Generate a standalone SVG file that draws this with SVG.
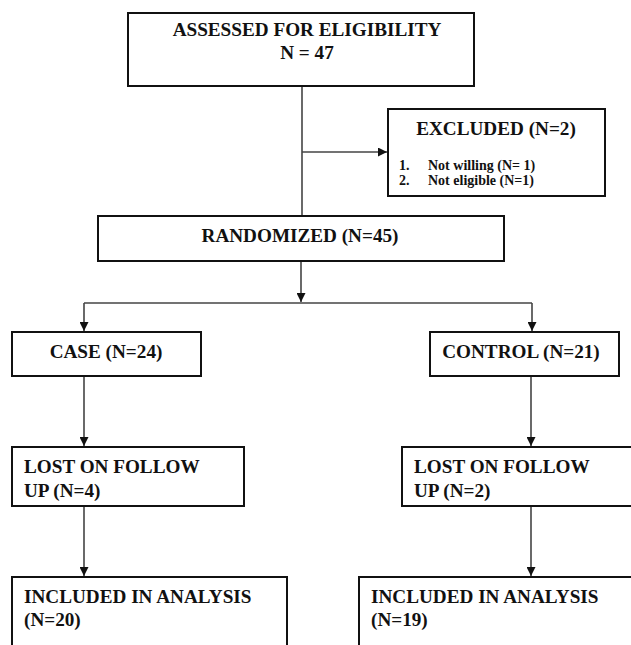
<svg xmlns="http://www.w3.org/2000/svg" width="631" height="645" viewBox="0 0 631 645">
<style>
.box{fill:#fff;stroke:#111;stroke-width:2}
.t{font-family:"Liberation Serif","Times New Roman",serif;font-weight:bold;fill:#111;font-size:19.2px}
.s{font-size:14px}
.c{text-anchor:middle}
.ln{stroke:#444;stroke-width:1.6;fill:none}
</style>
<defs>
<marker id="ah" viewBox="0 0 10 10" refX="10" refY="5" markerWidth="9" markerHeight="9" markerUnits="userSpaceOnUse" orient="auto">
<path d="M0,0 L10,5 L0,10 z" fill="#111"/>
</marker>
</defs>
<rect width="631" height="645" fill="#fff"/>
<g id="connectors">
<line class="ln" x1="302" y1="86" x2="302" y2="216"/>
<line class="ln" x1="302" y1="152" x2="387" y2="152" marker-end="url(#ah)"/>
<line class="ln" x1="301" y1="261" x2="301" y2="302" marker-end="url(#ah)"/>
<line class="ln" x1="84" y1="303" x2="532" y2="303"/>
<line class="ln" x1="84" y1="303" x2="84" y2="331" marker-end="url(#ah)"/>
<line class="ln" x1="532" y1="303" x2="532" y2="331" marker-end="url(#ah)"/>
<line class="ln" x1="84" y1="376" x2="84" y2="446" marker-end="url(#ah)"/>
<line class="ln" x1="531" y1="376" x2="531" y2="446" marker-end="url(#ah)"/>
<line class="ln" x1="84" y1="506" x2="84" y2="576" marker-end="url(#ah)"/>
<line class="ln" x1="531" y1="506" x2="531" y2="576" marker-end="url(#ah)"/>
</g>
<g id="assessed">
<rect class="box" x="128" y="13" width="346" height="73"/>
<text class="t c" x="307" y="36">ASSESSED FOR ELIGIBILITY</text>
<text class="t c" x="307" y="59">N = 47</text>
</g>
<g id="excluded">
<rect class="box" x="388" y="109" width="217" height="87"/>
<text class="t c" x="496" y="135">EXCLUDED (N=2)</text>
<text class="t s" x="399" y="170">1.</text>
<text class="t s" x="428" y="170">Not willing (N= 1)</text>
<text class="t s" x="399" y="185">2.</text>
<text class="t s" x="428" y="185">Not eligible (N=1)</text>
</g>
<g id="randomized">
<rect class="box" x="98" y="216" width="406" height="45"/>
<text class="t c" x="300" y="242">RANDOMIZED (N=45)</text>
</g>
<g id="case">
<rect class="box" x="12" y="332" width="189" height="44"/>
<text class="t c" x="106" y="358">CASE (N=24)</text>
</g>
<g id="control">
<rect class="box" x="430" y="332" width="189" height="44"/>
<text class="t c" x="521" y="358">CONTROL (N=21)</text>
</g>
<g id="lost-case">
<rect class="box" x="12" y="447" width="232" height="59"/>
<text class="t" x="24" y="473">LOST ON FOLLOW</text>
<text class="t" x="24" y="497">UP (N=4)</text>
</g>
<g id="lost-control">
<rect class="box" x="402" y="447" width="240" height="59"/>
<text class="t" x="414" y="473">LOST ON FOLLOW</text>
<text class="t" x="414" y="497">UP (N=2)</text>
</g>
<g id="included-case">
<rect class="box" x="12" y="577" width="275" height="80"/>
<text class="t" x="24" y="603">INCLUDED IN ANALYSIS</text>
<text class="t" x="24" y="626">(N=20)</text>
</g>
<g id="included-control">
<rect class="box" x="359" y="577" width="290" height="80"/>
<text class="t" x="371" y="603">INCLUDED IN ANALYSIS</text>
<text class="t" x="371" y="626">(N=19)</text>
</g>
</svg>
